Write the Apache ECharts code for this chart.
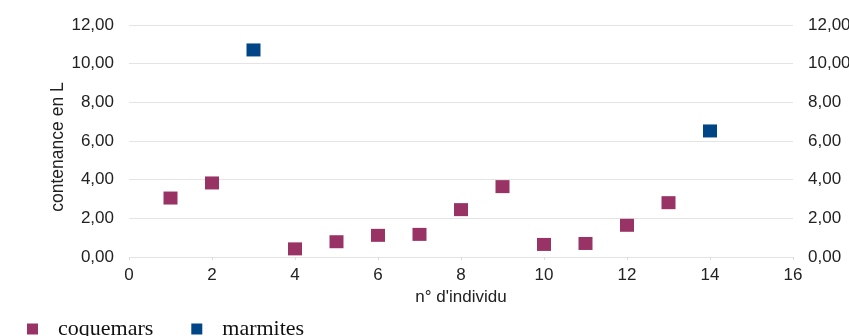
<!DOCTYPE html>
<html>
<head>
<meta charset="utf-8">
<script src="https://cdn.jsdelivr.net/npm/echarts@6/dist/echarts.min.js"></script>
<style>
html,body{margin:0;padding:0;background:#fff;}
#c{width:849px;height:336px;}
</style>
</head>
<body>
<div id="c"></div>
<script>
var coquemarsX = [1, 2, 4, 5, 6, 7, 8, 9, 10, 11, 12, 13];
var coquemarsY = [3.05, 3.83, 0.42, 0.79, 1.12, 1.17, 2.45, 3.64, 0.65, 0.70, 1.64, 2.81];
var marmitesX = [3, 14];
var marmitesY = [10.71, 6.52];
var seriesNames = ['coquemars', 'marmites'];
var xAxisName = "n° d'individu";
var yAxisName = 'contenance en L';

function pairs(xs, ys){ return xs.map(function(x,i){ return [x, ys[i]]; }); }
function fmt(v){ return v.toFixed(2).replace('.', ','); }

var chart = echarts.init(document.getElementById('c'));
var labelStyle = {fontFamily:'Liberation Sans, Arial, sans-serif', fontSize:17, color:'#222'};
chart.setOption({
  animation:false,
  backgroundColor:'#fff',
  grid:{left:129, right:56, top:25, bottom:79, containLabel:false, outerBoundsMode:'none'},
  legend:{
    left:22, top:313, itemWidth:11, itemHeight:11, itemGap:38, icon:'rect',
    textStyle:{fontFamily:'Liberation Serif, Times New Roman, serif', fontSize:22, color:'#111', padding:[0,0,0,15]},
    data:seriesNames
  },
  xAxis:{
    type:'value', min:0, max:16, interval:2,
    name:xAxisName, nameLocation:'middle', nameGap:32, nameMoveOverlap:false,
    nameTextStyle:{fontFamily:'Liberation Sans, Arial, sans-serif', fontSize:17, color:'#222'},
    axisLine:{show:false},
    axisTick:{show:true, length:3, lineStyle:{color:'#dcdcdc'}},
    splitLine:{show:false},
    axisLabel:Object.assign({margin:10}, labelStyle)
  },
  yAxis:[{
    type:'value', min:0, max:12, interval:2, position:'left',
    name:yAxisName, nameLocation:'middle', nameGap:62, nameRotate:90, nameMoveOverlap:false,
    nameTextStyle:{fontFamily:'Liberation Sans, Arial, sans-serif', fontSize:17.5, color:'#222', padding:[0,12,0,0]},
    axisLine:{show:false}, axisTick:{show:false},
    splitLine:{show:true, lineStyle:{color:'#e4e4e4'}},
    axisLabel:Object.assign({margin:15, formatter:fmt}, labelStyle)
  },{
    type:'value', min:0, max:12, interval:2, position:'right',
    axisLine:{show:false}, axisTick:{show:false}, splitLine:{show:false},
    axisLabel:Object.assign({margin:15, formatter:fmt}, labelStyle)
  }],
  series:[{
    name:seriesNames[0], type:'scatter', symbol:'rect', symbolSize:[14,13],
    itemStyle:{color:'#993366', opacity:1}, data:pairs(coquemarsX, coquemarsY)
  },{
    name:seriesNames[1], type:'scatter', symbol:'rect', symbolSize:[14,13],
    itemStyle:{color:'#004586', opacity:1}, data:pairs(marmitesX, marmitesY)
  }]
});
</script>
</body>
</html>
